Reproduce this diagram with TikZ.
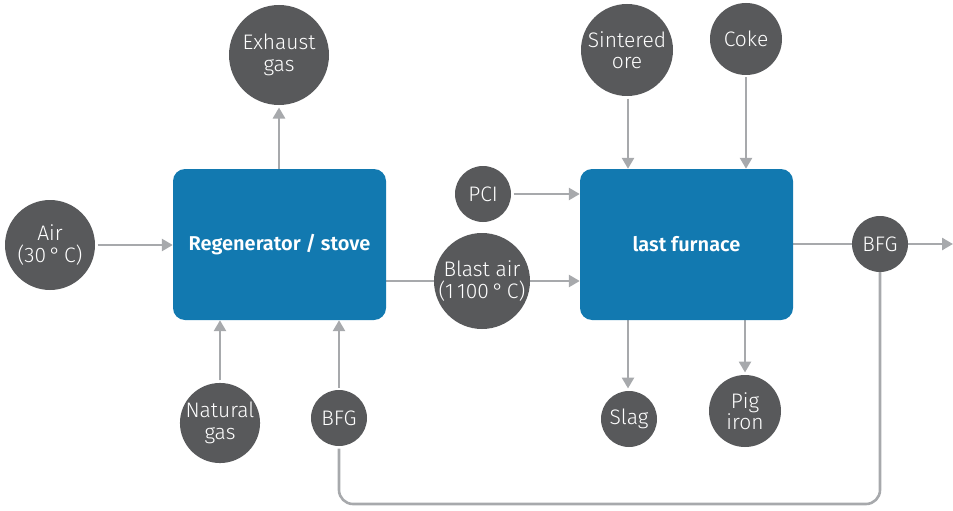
\documentclass[tikz,border=0pt]{standalone}
\usepackage{fontspec}
\setmainfont{Fira Sans Light}[BoldFont=Fira Sans SemiBold]
\usetikzlibrary{arrows.meta,backgrounds}
\definecolor{boxblue}{RGB}{18,121,176}
\definecolor{ballgrey}{RGB}{88,89,91}
\definecolor{pipegrey}{RGB}{167,169,172}
\tikzset{
  unit/.style={draw=none,fill=boxblue,rounded corners=12pt,minimum width=213pt,minimum height=151pt,
    text=white,font=\fontsize{20}{22}\selectfont\bfseries,inner sep=0pt},
  ball/.style={circle,fill=ballgrey,text=white,inner sep=0pt,outer sep=2.5pt,align=center,
    font=\fontsize{21}{21.5}\selectfont},
  pipe/.style={draw=pipegrey,line width=2.6pt},
  flow/.style={pipe,-{Triangle[length=11pt,width=12pt]}}
}
\begin{document}
\begin{tikzpicture}[x=1pt,y=-1pt]
\useasboundingbox (0,0) rectangle (953,511);
% process units
\node[unit] (regen) at (279.5,244.5) {Regenerator / stove};
\node[unit] (furnace) at (686.5,244.5) {last furnace};
% streams
\node[ball,minimum size=90pt] (air) at (50,245) {Air\\(30\,°\,C)};
\node[ball,minimum size=100pt] (exhaust) at (279,55) {Exhaust\\gas};
\node[ball,minimum size=92pt] (sinter) at (627,50) {Sintered\\ore};
\node[ball,minimum size=72pt] (coke) at (746,39) {Coke};
\node[ball,minimum size=56pt] (pci) at (483,194) {PCI};
\node[ball,minimum size=96pt,outer sep=0pt] (blast) at (482,281) {Blast air\\(1\,100\,°\,C)};
\node[ball,minimum size=56pt,outer sep=0pt] (bfgout) at (880,244) {BFG};
\node[ball,minimum size=76pt] (natgas) at (220,423) {Natural\\gas};
\node[ball,minimum size=56pt] (bfgin) at (339,418) {BFG};
\node[ball,minimum size=56pt] (slag) at (629,419) {Slag};
\node[ball,minimum size=72pt] (pig) at (745,411) {Pig\\iron};
\coordinate (exit) at (953,244);
\coordinate (loop) at (880,504);
\begin{scope}[on background layer]
\draw[flow] (air) -- (regen.west |- air);
\draw[flow] (exhaust.south |- regen.north) -- (exhaust.south);
\draw[flow] (natgas.north) -- (natgas.north |- regen.south);
\draw[flow] (bfgin.north) -- (bfgin.north |- regen.south);
\draw[flow] (regen.east |- blast.center) -- (furnace.west |- blast.center);
\draw[flow] (pci.east) -- (furnace.west |- pci.east);
\draw[flow] (sinter.south -| 628,0) -- (628,0 |- furnace.north);
\draw[flow] (coke.south) -- (coke.south |- furnace.north);
\draw[flow] (628,0 |- furnace.south) -- (slag.north -| 628,0);
\draw[flow] (pig.north |- furnace.south) -- (pig.north);
\draw[pipe] (furnace.east |- bfgout.center) -- (bfgout.center);
\draw[flow] (bfgout.east) -- (exit);
\draw[pipe,rounded corners=14pt] (bfgout.center) -- (loop) -| (bfgin.south);
\end{scope}
\end{tikzpicture}
\end{document}
